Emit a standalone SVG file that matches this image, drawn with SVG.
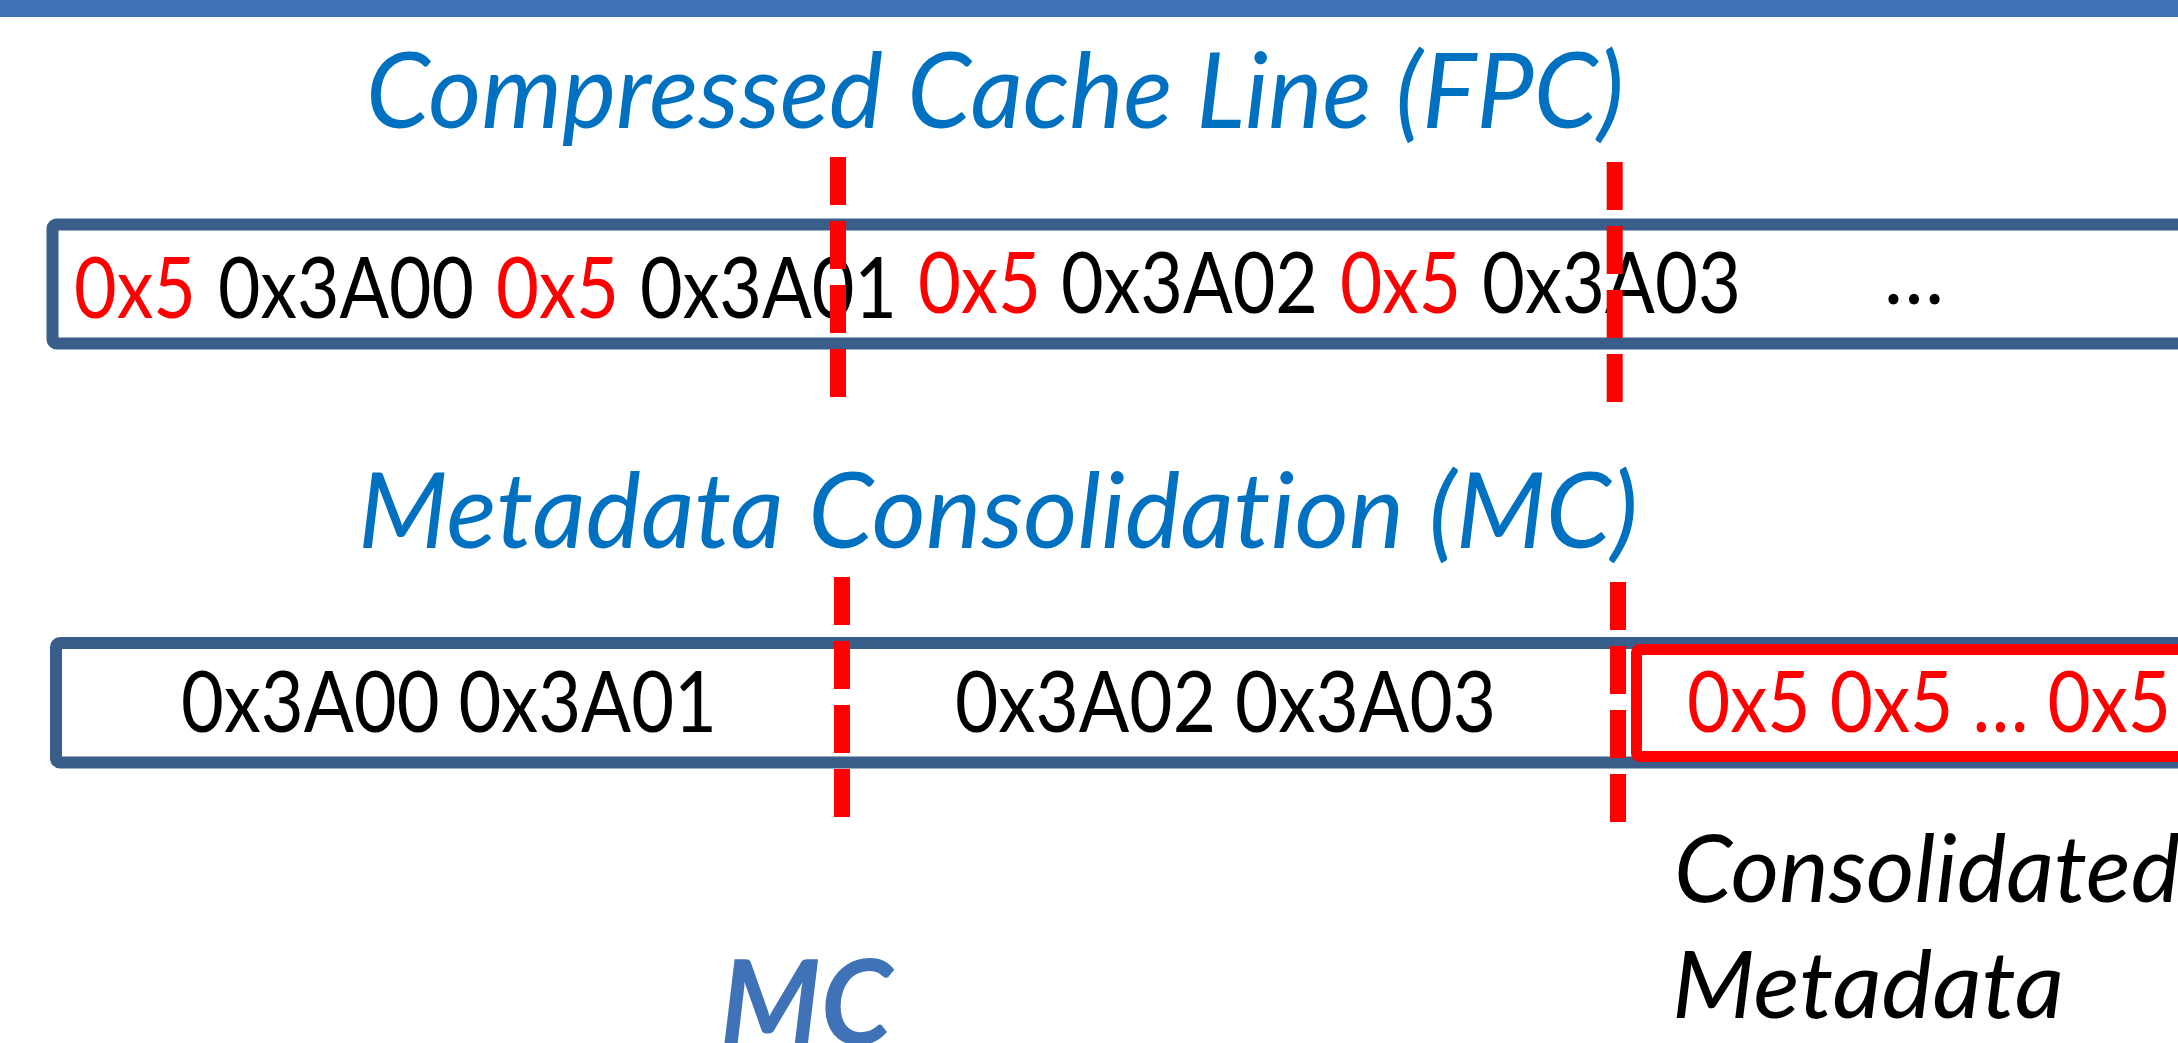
<svg xmlns="http://www.w3.org/2000/svg" width="2178" height="1043" viewBox="0 0 2178 1043">
  <style>
    text { font-family: Lato, "Liberation Sans", sans-serif; font-variant-ligatures: none; font-feature-settings: "liga" 0, "clig" 0, "dlig" 0; }
    .title { font-size: 104px; font-style: italic; fill: #0070C0; }
    .hex { font-size: 86px; fill: #000000; }
    .meta { fill: #FF0000; }
    .line-box { fill: #FFFFFF; stroke: #395E8A; stroke-width: 12; }
    .meta-box { fill: #FFFFFF; stroke: #FF0000; stroke-width: 11; }
    .caption { font-size: 94px; font-style: italic; fill: #000000; }
    .label { font-size: 116px; font-style: italic; font-weight: bold; fill: #4072B8; }
    .divider { stroke: #FF0000; stroke-width: 16; stroke-dasharray: 48 16; fill: none; }
  </style>

  <!-- header band -->
  <rect id="header-bar" x="0" y="0" width="2178" height="17" fill="#4072B8"/>

  <!-- compressed cache line (FPC) -->
  <g id="title-fpc">
    <text class="title" x="366" y="128" textLength="1258" lengthAdjust="spacingAndGlyphs">Compressed Cache Line (FPC)</text>
  </g>
  <g id="fpc-line">
    <rect class="line-box" x="52.5" y="224.5" width="2200" height="119" rx="4"/>
    <text class="hex meta" x="74" y="318" textLength="122" lengthAdjust="spacingAndGlyphs">0x5</text>
    <text class="hex" x="218" y="318" textLength="256" lengthAdjust="spacingAndGlyphs">0x3A00</text>
    <text class="hex meta" x="496" y="318" textLength="123" lengthAdjust="spacingAndGlyphs">0x5</text>
    <text class="hex" x="640" y="318" textLength="257" lengthAdjust="spacingAndGlyphs">0x3A01</text>
    <text class="hex meta" x="918" y="313" textLength="123" lengthAdjust="spacingAndGlyphs">0x5</text>
    <text class="hex" x="1061" y="313" textLength="257" lengthAdjust="spacingAndGlyphs">0x3A02</text>
    <text class="hex meta" x="1340" y="313" textLength="121" lengthAdjust="spacingAndGlyphs">0x5</text>
    <text class="hex" x="1482" y="313" textLength="259" lengthAdjust="spacingAndGlyphs">0x3A03</text>
    <text class="hex" x="1884" y="304" textLength="60" lengthAdjust="spacingAndGlyphs">…</text>
  </g>

  <!-- metadata consolidation (MC) -->
  <g id="title-mc">
    <text class="title" x="358" y="548" textLength="1280" lengthAdjust="spacingAndGlyphs">Metadata Consolidation (MC)</text>
  </g>
  <g id="mc-line">
    <rect class="line-box" x="56" y="643" width="2200" height="119.5" rx="4"/>
    <text class="hex" x="181" y="732" textLength="536" lengthAdjust="spacingAndGlyphs">0x3A00 0x3A01</text>
    <text class="hex" x="955" y="732" textLength="541" lengthAdjust="spacingAndGlyphs">0x3A02 0x3A03</text>
  </g>
  <g id="consolidated-block">
    <rect class="meta-box" x="1636.5" y="649.5" width="600" height="107" rx="3"/>
    <text class="hex meta" x="1687" y="732" textLength="484" lengthAdjust="spacingAndGlyphs">0x5 0x5 … 0x5</text>
  </g>

  <!-- captions -->
  <g id="consolidated-caption">
    <text class="caption" x="1674" y="902" textLength="506" lengthAdjust="spacingAndGlyphs">Consolidated</text>
    <text class="caption" x="1672" y="1018" textLength="392" lengthAdjust="spacingAndGlyphs">Metadata</text>
  </g>
  <g id="mc-label">
    <text class="label" x="720" y="1044" textLength="172" lengthAdjust="spacingAndGlyphs">MC</text>
  </g>

  <!-- red dashed word boundaries -->
  <g id="dividers">
    <line class="divider" x1="838" y1="157" x2="838" y2="397"/>
    <line class="divider" x1="1614.7" y1="162" x2="1614.7" y2="402"/>
    <line class="divider" x1="842" y1="577" x2="842" y2="817"/>
    <line class="divider" x1="1618" y1="582" x2="1618" y2="822"/>
  </g>
</svg>
